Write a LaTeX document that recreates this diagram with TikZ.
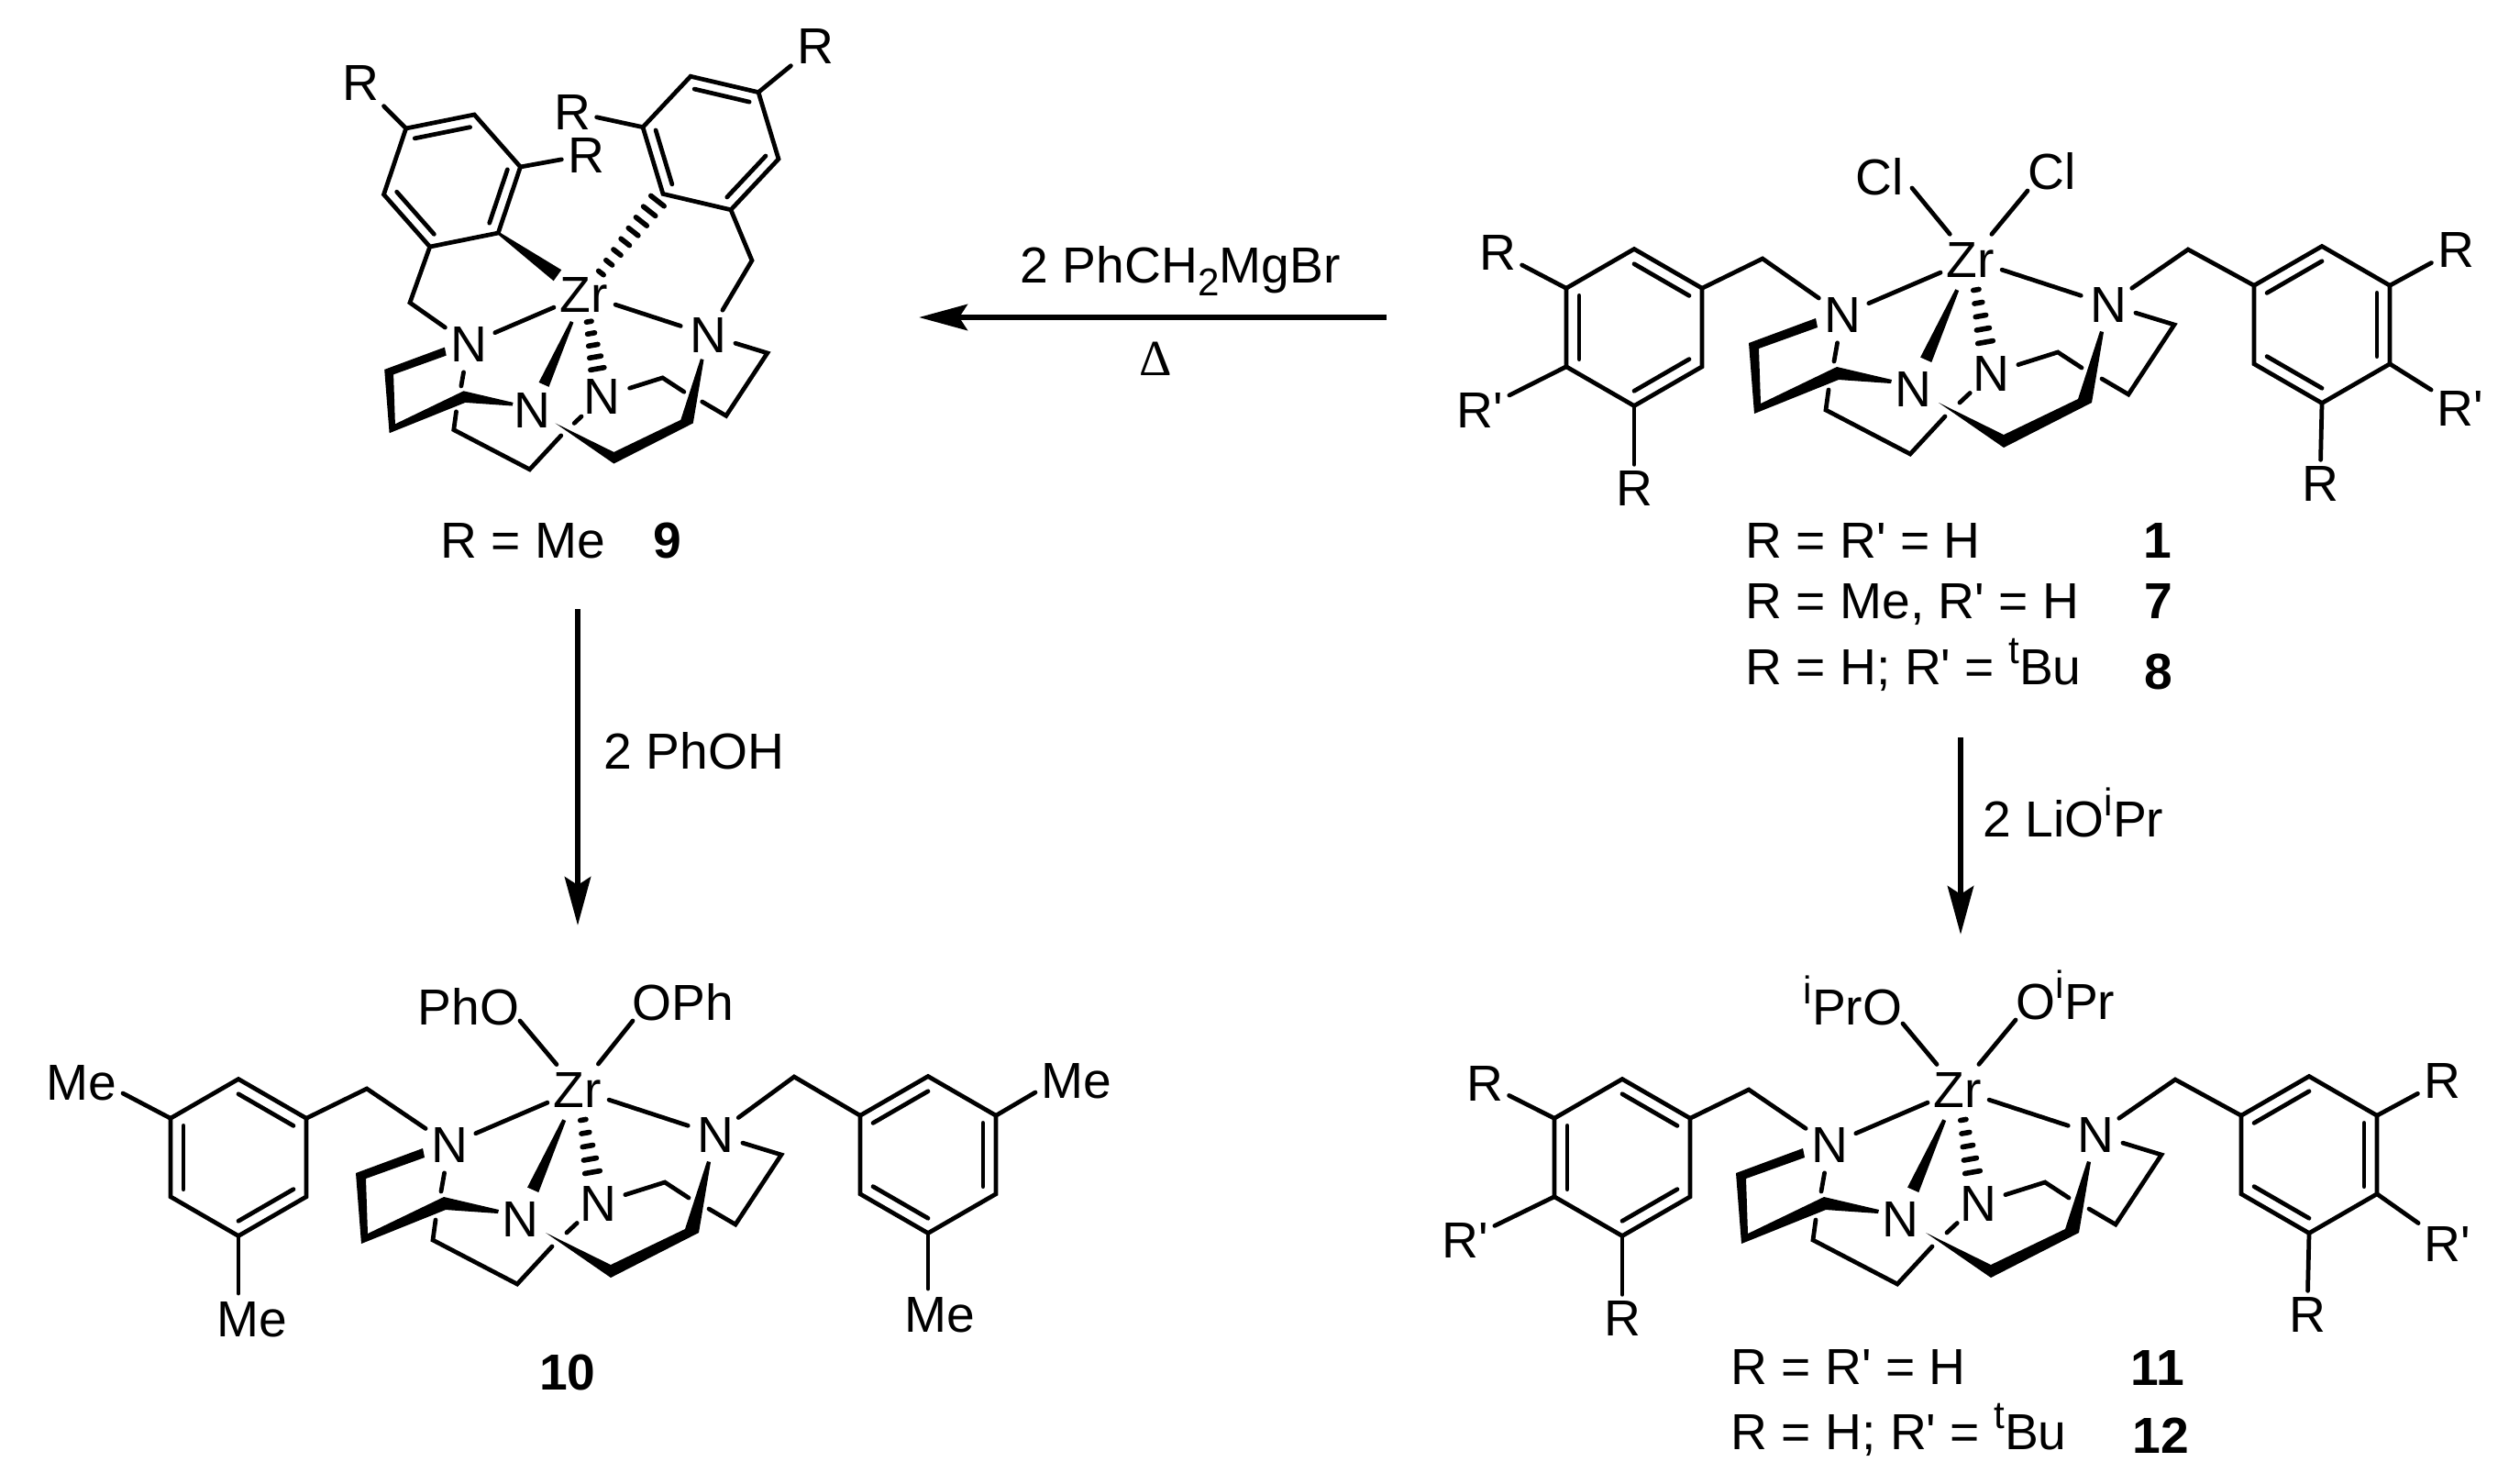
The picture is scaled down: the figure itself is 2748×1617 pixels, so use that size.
\documentclass[tikz,border=0pt]{standalone}
\usepackage{fontspec}
\setmainfont{Liberation Sans}[Ligatures=TeXOff]
\newfontfamily\serifgreek{Liberation Serif}
\usetikzlibrary{arrows.meta, calc}

\tikzset{
    bond/.style={line width=1.35pt, line cap=round, line join=miter},
    hashline/.style={line width=1.6pt, line cap=round},
    atom/.style={circle, inner sep=0pt, minimum size=17.4pt},
    metal/.style={circle, inner sep=0pt, minimum size=20pt},
    sub/.style={rectangle, inner sep=1.7pt},
    lig/.style={inner sep=0pt, anchor=base west},
    ligr/.style={inner sep=0pt, anchor=base east},
    capt/.style={inner sep=0pt, anchor=base west},
    num/.style={inner sep=0pt, font=\fontsize{15.7}{18}\selectfont\bfseries},
    rxn/.style={line width=1.85pt, -{Stealth[length=15pt, width=8pt, inset=2.5pt]}}
}

\newcommand{\upx}[1]{\raisebox{6.5pt}{\fontsize{12}{12}\selectfont #1}}
\newcommand{\dnx}[1]{\raisebox{-4pt}{\fontsize{12}{12}\selectfont #1}}
\def\dblA{1/2,3/4,5/6}
\def\dblB{2/3,4/5,6/1}

% filled wedge from a to b, between fractions t0 and t1, half widths w0 and w1
\newcommand{\wedgebond}[6]{%
    \coordinate (wa) at ($(#1)!#3!(#2)$);
    \coordinate (wb) at ($(#1)!#4!(#2)$);
    \fill ($(wa)!#5!90:(#2)$) -- ($(wa)!#5!-90:(#2)$) -- ($(wb)!#6!-90:(#2)$) -- ($(wb)!#6!90:(#2)$) -- cycle;
}

% hashed wedge from a to b: fractions t0, t1, number of strokes, half widths in pt
\newcommand{\hashbond}[7]{%
    \foreach \k in {1,...,#5} {
        \pgfmathsetmacro\hf{#3+(#4-#3)*(\k-1)/(#5-1)}
        \pgfmathsetmacro\hw{#6+(#7-#6)*(\k-1)/(#5-1)}
        \coordinate (hm) at ($(#1)!\hf!(#2)$);
        \draw[hashline] ($(hm)!\hw pt!90:(#2)$) -- ($(hm)!\hw pt!-90:(#2)$);
    }
}

% benzene ring: name, centre, turn, radius, double bonds
\newcommand{\arene}[5]{%
    \coordinate (#1-c) at (#2);
    \foreach \i in {1,...,6}
        \coordinate (#1-\i) at ($(#1-c)+({-90+#3+60*(\i-1)}:#4)$);
    \draw[bond] (#1-1) -- (#1-2) -- (#1-3) -- (#1-4) -- (#1-5) -- (#1-6) -- cycle;
    \foreach \p/\q in #5
        \draw[bond] ($(#1-c)!0.81!(#1-\p)$) -- ($(#1-c)!0.81!(#1-\q)$);
}

% Zr with the macrocycle: name, Zr position, size
\newcommand{\cage}[3]{%
\begin{scope}[shift={(#2)}, scale=#3]
    \node[metal] (#1-Zr) at (0,0) {Zr};
    \node[atom] (#1-Na) at (-140,60) {N};
    \node[atom] (#1-Nb) at (-63,141) {N};
    \node[atom] (#1-Nc) at (22,124) {N};
    \node[atom] (#1-Nd) at (150,49) {N};
    \coordinate (#1-Ca) at (-149,111);
    \coordinate (#1-Cb) at (-155,142);
    \coordinate (#1-Cc) at (-158,164);
    \coordinate (#1-Cd) at (-66,212);
    \coordinate (#1-Ce) at (-28,171);
    \coordinate (#1-Cf) at (-12,156);
    \coordinate (#1-Cg) at (95,101);
    \coordinate (#1-Ch) at (121,118);
    \coordinate (#1-Ci) at (143,130);
    \coordinate (#1-Cj) at (172,147);
    \coordinate (#1-Ck) at (222,71);

    % bonds at the metal
    \draw[bond] (#1-Zr) -- (#1-Na);
    \draw[bond] (#1-Zr) -- (#1-Nd);
    \wedgebond{#1-Zr}{#1-Nb}{0.235}{0.775}{0.6pt}{1.9pt}
    \hashbond{#1-Zr}{#1-Nc}{0.266}{0.726}{5}{0.9}{2.4}

    % plain bonds of the ring, broken where they pass behind
    \draw[bond] (#1-Na) -- (#1-Ca);
    \draw[bond] (#1-Cb) -- (#1-Cc) -- (#1-Cd) -- (#1-Ce);
    \draw[bond] (#1-Nc) -- (#1-Cf);
    \draw[bond] (#1-Nc) -- (#1-Cg) -- (#1-Ch);
    \draw[bond] (#1-Nd) -- (#1-Ck) -- (#1-Cj) -- (#1-Ci);

    % bold front bonds
    \fill (-169,64) -- (-242,91) -- (-236,168) -- (-144,131) -- (-87,135) -- (-86,131)
        -- (-146,117) -- (-229,157) -- (-231,97) -- (-167,74) -- cycle;
    \fill (-35,156) -- (36,191) -- (117,152) -- (141,78) -- (145,79) -- (132,156)
        -- (36,205) -- cycle;
\end{scope}}

\begin{document}
\begin{tikzpicture}[x=0.01cm, y=-0.01cm, every node/.style={font=\fontsize{15.7}{18}\selectfont}]
    \useasboundingbox (0,0) rectangle (2748,1617);

    % Complex 1, 7, 8
    \cage{a}{2149,283}{1}
    \coordinate (a-p1) at (2085,205);
    \coordinate (a-p2) at (2211,208);
    \node[lig] (a-cl1) at (2023,212) {Cl};
    \node[lig] (a-cl2) at (2211,206) {Cl};
    \draw[bond] (a-Zr) -- (a-p1);
    \draw[bond] (a-Zr) -- (a-p2);
    \arene{a-L}{1782,357}{0}{85.5}{\dblA}
    \arene{a-R}{2532,354}{0}{85.5}{\dblB}
    \coordinate (a-ch1) at (1922,282);
    \coordinate (a-ch2) at (2386,272);
    \draw[bond] (a-L-2) -- (a-ch1) -- (a-Na);
    \draw[bond] (a-R-6) -- (a-ch2) -- (a-Nd);
    \node[sub] (a-r1) at (1633,275) {R};
    \node[sub] (a-r2) at (1614,447) {R'};
    \node[sub] (a-r3) at (1782,532) {R};
    \node[sub] (a-r4) at (2678,272) {R};
    \node[sub] (a-r5) at (2683,445) {R'};
    \node[sub] (a-r6) at (2530,527) {R};
    \draw[bond] (a-L-6) -- (a-r1);
    \draw[bond] (a-L-5) -- (a-r2);
    \draw[bond] (a-L-4) -- (a-r3);
    \draw[bond] (a-R-2) -- (a-r4);
    \draw[bond] (a-R-3) -- (a-r5);
    \draw[bond] (a-R-4) -- (a-r6);
    \node[capt] (a-t1) at (1903,608) {R = R' = H};
    \node[capt] (a-t2) at (1903,674) {R = Me, R' = H};
    \node[capt] (a-t3) at (1903,746) {R = H; R' = \upx{t}Bu};
    \node[num] (a-n1) at (2353,589) {1};
    \node[num] (a-n2) at (2354,655) {7};
    \node[num] (a-n3) at (2354,732) {8};

    % Complex 9
    \cage{b}{637,321}{0.9}
    \arene{b-L}{493,197}{18.6}{76}{\dblB}
    \arene{b-R}{775,156}{-16.8}{76}{\dblA}
    \coordinate (b-ch1) at (447,330);
    \coordinate (b-ch2) at (820,284);
    \draw[bond] (b-L-4) -- (b-ch1) -- (b-Na);
    \draw[bond] (b-R-4) -- (b-ch2) -- (b-Nd);
    \wedgebond{b-L-3}{b-Zr}{0}{0.69}{0.4pt}{2.1pt}
    \hashbond{b-Zr}{b-R-5}{0.214}{0.93}{8}{1}{2.6}
    \node[sub] (b-r1) at (393,90) {R};
    \node[sub] (b-r2) at (639,169) {R};
    \node[sub] (b-r3) at (624,122) {R};
    \node[sub] (b-r4) at (889,50) {R};
    \draw[bond] (b-L-6) -- (b-r1);
    \draw[bond] (b-L-2) -- (b-r2);
    \draw[bond] (b-R-6) -- (b-r3);
    \draw[bond] (b-R-2) -- (b-r4);
    \node[capt] (b-t1) at (480,608) {R = Me};
    \node[num] (b-n1) at (728,589) {9};

    % Complex 10
    \cage{c}{630,1188}{1}
    \coordinate (c-p1) at (567,1113);
    \coordinate (c-p2) at (690,1113);
    \node[ligr] (c-ph1) at (567,1117) {PhO};
    \node[lig] (c-ph2) at (689,1112) {OPh};
    \draw[bond] (c-Zr) -- (c-p1);
    \draw[bond] (c-Zr) -- (c-p2);
    \arene{c-L}{260,1262}{0}{85.5}{\dblA}
    \arene{c-R}{1012,1259}{0}{85.5}{\dblB}
    \coordinate (c-ch1) at (400,1187);
    \coordinate (c-ch2) at (866,1174);
    \draw[bond] (c-L-2) -- (c-ch1) -- (c-Na);
    \draw[bond] (c-R-6) -- (c-ch2) -- (c-Nd);
    \coordinate (c-e1) at (134,1192);
    \coordinate (c-e2) at (260,1410);
    \coordinate (c-e3) at (1129,1191);
    \coordinate (c-e4) at (1012,1405);
    \draw[bond] (c-L-6) -- (c-e1);
    \draw[bond] (c-L-4) -- (c-e2);
    \draw[bond] (c-R-2) -- (c-e3);
    \draw[bond] (c-R-4) -- (c-e4);
    \node (c-me1) at (89,1181) {Me};
    \node (c-me2) at (275,1439) {Me};
    \node (c-me3) at (1174,1179) {Me};
    \node (c-me4) at (1025,1434) {Me};
    \node[num] (c-n1) at (619,1496) {10};

    % Complex 11, 12
    \cage{d}{2135,1188}{1}
    \coordinate (d-p1) at (2075,1116);
    \coordinate (d-p2) at (2198,1112);
    \node[ligr] (d-o1) at (2075,1117) {\upx{i}PrO};
    \node[lig] (d-o2) at (2198,1111) {O\upx{i}Pr};
    \draw[bond] (d-Zr) -- (d-p1);
    \draw[bond] (d-Zr) -- (d-p2);
    \arene{d-L}{1769,1262}{0}{85.5}{\dblA}
    \arene{d-R}{2518,1259}{0}{85.5}{\dblB}
    \coordinate (d-ch1) at (1907,1188);
    \coordinate (d-ch2) at (2372,1177);
    \draw[bond] (d-L-2) -- (d-ch1) -- (d-Na);
    \draw[bond] (d-R-6) -- (d-ch2) -- (d-Nd);
    \node[sub] (d-r1) at (1619,1181) {R};
    \node[sub] (d-r2) at (1598,1352) {R'};
    \node[sub] (d-r3) at (1769,1437) {R};
    \node[sub] (d-r4) at (2663,1178) {R};
    \node[sub] (d-r5) at (2669,1356) {R'};
    \node[sub] (d-r6) at (2516,1433) {R};
    \draw[bond] (d-L-6) -- (d-r1);
    \draw[bond] (d-L-5) -- (d-r2);
    \draw[bond] (d-L-4) -- (d-r3);
    \draw[bond] (d-R-2) -- (d-r4);
    \draw[bond] (d-R-3) -- (d-r5);
    \draw[bond] (d-R-4) -- (d-r6);
    \node[capt] (d-t1) at (1887,1509) {R = R' = H};
    \node[capt] (d-t2) at (1887,1580) {R = H; R' = \upx{t}Bu};
    \node[num] (d-n1) at (2353,1491) {11};
    \node[num] (d-n2) at (2356,1565) {12};

    % Reaction arrows
    \coordinate (s1) at (1512,346);
    \coordinate (e1) at (1002,346);
    \draw[rxn] (s1) -- (e1);
    \node[capt] (r1a) at (1112,308) {2 PhCH\dnx{2}MgBr};
    \node[inner sep=0pt] (r1b) at (1260,391) {\serifgreek Δ};

    \coordinate (s2) at (630,664);
    \coordinate (e2) at (630,1009);
    \draw[rxn] (s2) -- (e2);
    \node[capt] (r2a) at (658,838) {2 PhOH};

    \coordinate (s3) at (2138,804);
    \coordinate (e3) at (2138,1019);
    \draw[rxn] (s3) -- (e3);
    \node[capt] (r3a) at (2162,912) {2 LiO\upx{i}Pr};
\end{tikzpicture}
\end{document}
